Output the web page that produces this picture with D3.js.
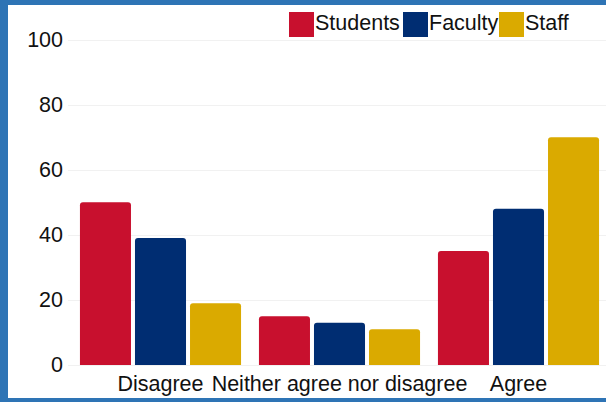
<!DOCTYPE html>
<html>
<head>
<meta charset="utf-8">
<script src="https://cdn.jsdelivr.net/npm/d3@7"></script>
<style>
  html, body { margin: 0; padding: 0; background: #fff; }
  svg { display: block; font-family: "Liberation Sans", Arial, sans-serif; }
</style>
</head>
<body>
<svg id="chart" width="606" height="402"></svg>
<script>
// Survey responses by group (percent)
const categories = ["Disagree", "Neither agree nor disagree", "Agree"];
const seriesNames = ["Students", "Faculty", "Staff"];
const seriesColors = ["#C8102E", "#002D72", "#DAAA00"];
const students = [50, 15, 35];
const faculty = [39, 13, 48];
const staff = [19, 11, 70];
const yTicks = [0, 20, 40, 60, 80, 100];

const seriesValues = [students, faculty, staff];

const svg = d3.select("#chart");
const W = 606, H = 402;
const FONT = "Liberation Sans, Arial, sans-serif";
const FS = 21.5;

svg.append("rect").attr("x", 0).attr("y", 0).attr("width", W).attr("height", H).attr("fill", "#fff");

const x0 = d3.scaleBand().domain(categories).range([71, 608]).paddingInner(0.1).paddingOuter(0.05);
const x1 = d3.scaleBand().domain(seriesNames).range([0, x0.bandwidth()]).paddingInner(0.0727).paddingOuter(0);
const y = d3.scaleLinear().domain([0, 100]).range([365, 39.5]);
const color = d3.scaleOrdinal().domain(seriesNames).range(seriesColors);

// Gridlines
svg.append("g").selectAll("line").data(yTicks).join("line")
  .attr("x1", 68).attr("x2", W)
  .attr("y1", d => Math.round(y(d)) + 0.5).attr("y2", d => Math.round(y(d)) + 0.5)
  .attr("stroke", "#f1f1f1").attr("stroke-width", 1);

// Y axis labels
const yAxis = d3.axisLeft(y).tickValues(yTicks).tickSize(0).tickPadding(0);
const gy = svg.append("g").attr("transform", "translate(63,0)").call(yAxis);
gy.select(".domain").remove();
gy.selectAll("text").attr("font-size", FS).attr("fill", "#111").attr("font-family", FONT);

// X axis labels
const xAxis = d3.axisBottom(x0).tickSize(0).tickPadding(0);
const gx = svg.append("g").attr("transform", "translate(0,391)").call(xAxis);
gx.select(".domain").remove();
gx.selectAll("text").attr("dy", "0").attr("font-size", FS).attr("fill", "#111").attr("font-family", FONT);

// Bars with rounded top corners
function topRounded(x, yTop, w, h, r) {
  r = Math.min(r, h, w / 2);
  return `M${x},${yTop + h}V${yTop + r}Q${x},${yTop} ${x + r},${yTop}H${x + w - r}Q${x + w},${yTop} ${x + w},${yTop + r}V${yTop + h}Z`;
}

const rows = categories.map((c, i) => ({
  category: c,
  values: seriesNames.map((s, j) => ({ series: s, value: seriesValues[j][i] }))
}));

const groups = svg.append("g").selectAll("g").data(rows).join("g")
  .attr("transform", d => `translate(${x0(d.category)},0)`);

groups.selectAll("path").data(d => d.values).join("path")
  .attr("d", d => topRounded(x1(d.series), y(d.value), x1.bandwidth(), y(0) - y(d.value), 3))
  .attr("fill", d => color(d.series));

// Legend
const legendItems = [
  { name: "Students", sx: 289, tx: 315 },
  { name: "Faculty", sx: 403, tx: 429 },
  { name: "Staff", sx: 499, tx: 525 }
];
const lg = svg.append("g");
legendItems.forEach(it => {
  lg.append("rect").attr("x", it.sx).attr("y", 12).attr("width", 25).attr("height", 25)
    .attr("fill", color(it.name));
  lg.append("text").attr("x", it.tx).attr("y", 30).attr("font-size", FS).attr("fill", "#111")
    .attr("font-family", FONT)
    .text(it.name);
});

// Blue frame on top, left and bottom edges
const borderColor = "#2E74B5";
svg.append("rect").attr("x", 0).attr("y", 0).attr("width", W).attr("height", 5).attr("fill", borderColor);
svg.append("rect").attr("x", 0).attr("y", 0).attr("width", 8).attr("height", H).attr("fill", borderColor);
svg.append("rect").attr("x", 0).attr("y", 398).attr("width", W).attr("height", 4).attr("fill", borderColor);
</script>
</body>
</html>
